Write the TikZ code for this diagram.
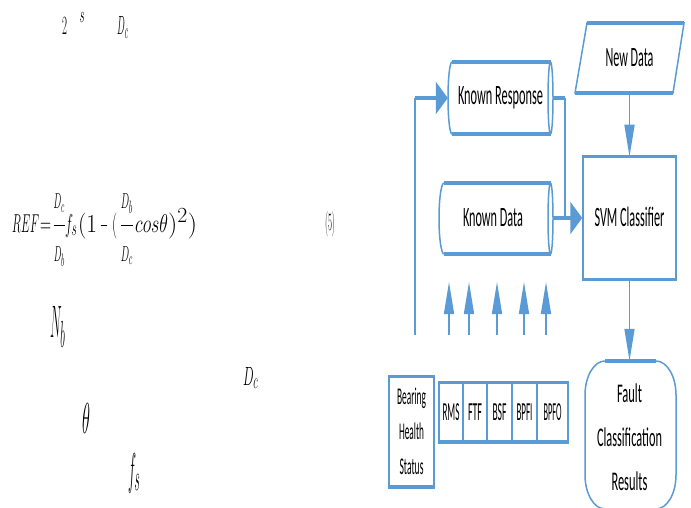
\documentclass[tikz,border=0pt]{standalone}
\usepackage{fontspec}
\usepackage{graphicx}
\usetikzlibrary{arrows.meta}
\newfontfamily\cb{Carlito}
\definecolor{bl}{RGB}{91,155,213}
\newcommand\fitw[2]{\resizebox{#1pt}{\height}{#2}}
\newcommand\fitwh[3]{\resizebox{#1pt}{#2pt}{#3}}
\newcommand\eqpc[3]{\makebox[#1pt][l]{\resizebox{#2pt}{1.04\height}{$#3$}}}
\newcommand\wfrac[2]{\frac{#1\rule[-15.5pt]{0pt}{0pt}}{\rule{0pt}{34pt}#2}}
\tikzset{
  thinl/.style={draw=bl, line width=1.5pt},
  thickl/.style={draw=bl, line width=3.5pt},
  vtip/.style={-{Triangle[length=32pt,width=10pt]}},
  htip/.style={-{Triangle[length=12pt,width=32pt]}},
  mth/.style={inner sep=0pt, anchor=base west, font=\fontsize{24.88}{30}\selectfont},
  lab/.style={inner sep=0pt, font=\cb\fontsize{28}{30}\selectfont},
  cell/.style={draw=bl, line width=1.5pt, minimum height=58pt, inner sep=0pt, font=\cb\fontsize{26}{30}\selectfont},
}
\begin{document}
\begin{tikzpicture}[x=1pt,y=-1pt]
\useasboundingbox (0,0) rectangle (691,508);
\clip (0,0) rectangle (691,508);
\fill[white] (0,0) rectangle (691,508);

% ---------- equation fragments ----------
\node[mth,anchor=base] (two) at (64.5,35) {\fitwh{5}{17}{$2$}};
\node[mth,anchor=base] (ess) at (82,23) {\fitwh{5}{10}{$s$}};
\node[mth] (dctop) at (117,35) {\fitwh{11}{18}{$D_c$}};
\node[mth] (eq) at (12,232) {\eqpc{28}{27}{REF}\eqpc{13}{11}{=}\eqpc{12}{12}{\wfrac{D_c}{D_b}}\eqpc{13}{12}{f_s}\eqpc{22}{19}{(1}\eqpc{12}{8}{-}\eqpc{8}{5}{(}\eqpc{15}{13}{\wfrac{D_b}{D_c}}\eqpc{33}{33}{cos\theta}\eqpc{29}{29}{)^2)}};
\node[mth,anchor=base,font=\fontsize{26}{30}\selectfont] (eqno) at (330,230) {\fitwh{10}{19}{(5)}};
\node[mth] (nb) at (50,337) {\fitwh{15}{31}{$N_b$}};
\node[mth] (dc) at (243,385) {\fitwh{15}{18}{$D_c$}};
\node[mth] (th) at (82,433) {\fitwh{8}{30}{$\theta$}};
\node[mth] (fs) at (128,484) {\fitwh{12}{31}{$f_s$}};

% ---------- Known Response (cylinder) ----------
\node[lab, minimum width=105pt, minimum height=72pt] (kr) at (500.5,98) {\fitw{85}{Known Response}};
\draw[thinl] (452,62) arc[start angle=270,end angle=90,x radius=4,y radius=36];
\draw[thinl] (550.5,98) ellipse[x radius=2.5,y radius=36];
\draw[thickl] (452,62) -- (550.5,62) (452,134) -- (550.5,134);

% ---------- Known Data (cylinder) ----------
\node[lab, minimum width=114pt, minimum height=71pt] (kd) at (496,218) {\raisebox{-2.5pt}{\fitw{60}{Known Data}}\hspace*{6pt}};
\draw[thinl] (444,183) arc[start angle=270,end angle=90,x radius=5,y radius=35.5];
\draw[thinl] (550.5,218.5) ellipse[x radius=2.5,y radius=35.5];
\draw[thickl] (444,183) -- (550.5,183) (444,254) -- (550.5,254);

% ---------- New Data (parallelogram) ----------
\node[lab, minimum width=98pt, minimum height=70pt] (nd) at (629.5,58) {\fitw{48}{New Data}};
\draw[thinl] (587,23) -- (684,23) -- (673,93) -- (575,93) -- cycle;
\draw[thickl] (587,23) -- (684,23) (575,93) -- (673,93);

% ---------- SVM Classifier ----------
\node[lab, draw=bl, line width=1.5pt, minimum width=93pt, minimum height=121pt] (svm) at (629.5,218) {\raisebox{3pt}{\fitw{70}{SVM Classifier}}};
\draw[thickl] (svm.north west) -- (svm.north east) (svm.south west) -- (svm.south east);

% ---------- Fault Classification Results ----------
\node[inner sep=0pt, minimum width=91pt, minimum height=152pt, align=center, font=\cb\fontsize{27}{44}\selectfont] (fault) at (629.5,437) {\fitw{25}{Fault}\\\fitw{65}{Classification}\\\fitw{36}{Results}};
\draw[thinl] (585,475) -- (585,395) arc[start angle=180,end angle=270,x radius=20,y radius=34]
  -- (656,361) arc[start angle=270,end angle=360,x radius=20,y radius=34]
  -- (676,475) arc[start angle=0,end angle=90,x radius=20,y radius=34]
  -- (605,509) arc[start angle=90,end angle=180,x radius=20,y radius=34] -- cycle;
\draw[thickl] (605,361) -- (656,361);

% ---------- Bearing Health Status ----------
\node[cell, minimum width=45pt, minimum height=109pt, align=center, font=\cb\fontsize{24}{35}\selectfont] (bhs) at (411.5,431.5) {\fitw{29}{Bearing}\\\fitw{25}{Health}\\\fitw{24}{Status}};
\draw[thickl] (bhs.north west) -- (bhs.north east) (bhs.south west) -- (bhs.south east);

% ---------- feature cells ----------
\node[cell, minimum width=24pt] (rms) at (451,412) {\fitw{17}{RMS}};
\node[cell, minimum width=24pt] (ftf) at (475,412) {\fitw{14}{FTF}};
\node[cell, minimum width=25pt] (bsf) at (499.5,412) {\fitw{14}{BSF}};
\node[cell, minimum width=25pt] (bpfi) at (524.5,412) {\fitw{16}{BPFI}};
\node[cell, minimum width=31pt] (bpfo) at (552.5,412) {\fitw{18}{BPFO}};
\draw[thickl] (rms.north west) -- (bpfo.north east) (rms.south west) -- (bpfo.south east);

% ---------- connectors ----------
\coordinate (fbB) at (415,335);
\coordinate (fbC) at (415,98);
\draw[thinl] (fbB) -- (fbC);
\draw[thickl,htip] (fbC) -- (kr.west);

\coordinate (jA) at (565,98);
\coordinate (jB) at (565,218);
\draw[thickl] (kr.east) -- (jA);
\draw[thinl] (jA) -- (jB);
\draw[thickl,htip] (kd.east) -- (svm.west);

\draw[thinl,vtip] (nd.south) -- (svm.north);
\draw[thinl,vtip] (svm.south) -- (fault.north);

\foreach \i/\x in {1/449,2/469,3/497,4/524,5/546}{
  \coordinate (sb\i) at (\x,335);
  \coordinate (st\i) at (\x,282);
  \draw[thinl,vtip] (sb\i) -- (st\i);
}
\end{tikzpicture}
\end{document}
